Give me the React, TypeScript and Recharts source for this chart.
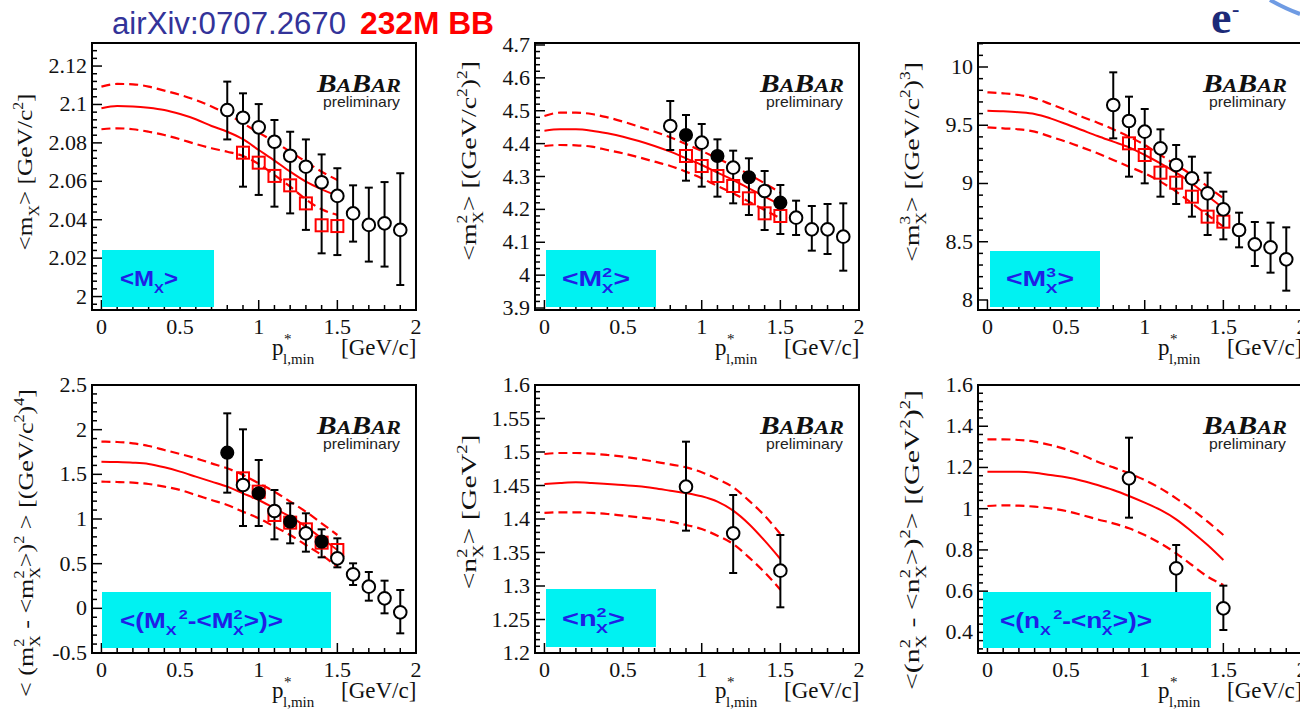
import React from 'react';
import { ComposedChart, Line, Scatter, ErrorBar, XAxis, YAxis, ReferenceArea } from 'recharts';

// p*_{l,min} cut values
const FIT_X = [0, 0.1, 0.2, 0.3, 0.4, 0.5, 0.6, 0.7, 0.8, 0.9, 1.0, 1.1, 1.2, 1.3, 1.4, 1.5];
const PMIN_ALL = [0.8, 0.9, 1.0, 1.1, 1.2, 1.3, 1.4, 1.5, 1.6, 1.7, 1.8, 1.9];
const PMIN_SQ = [0.9, 1.0, 1.1, 1.2, 1.3, 1.4, 1.5];
const PMIN_EVEN = [0.8, 1.0, 1.2, 1.4];
const PMIN_ODD = [0.9, 1.1, 1.3, 1.5];
const PMIN_M2_OPEN = [0.8, 1.0, 1.2, 1.4, 1.6, 1.7, 1.8, 1.9];
const PMIN_V_OPEN = [0.9, 1.1, 1.3, 1.5, 1.6, 1.7, 1.8, 1.9];
const PMIN_N = [0.9, 1.2, 1.5];

// <mX>
const MX_OPEN = [2.0971, 2.0931, 2.0881, 2.0806, 2.0733, 2.0676, 2.0595, 2.0524, 2.0433, 2.0373, 2.0381, 2.0347];
const MX_OPEN_HI = [2.1119, 2.1058, 2.1002, 2.0919, 2.0858, 2.0818, 2.074, 2.0668, 2.0579, 2.0567, 2.0596, 2.0642];
const MX_OPEN_LO = [2.0818, 2.0572, 2.0529, 2.0468, 2.0433, 2.0347, 2.0225, 2.0216, 2.0286, 2.0182, 2.0156, 2.006];
const MX_SQ = [2.0749, 2.0697, 2.0628, 2.0579, 2.0485, 2.0371, 2.0367];
const MX_FIT = [2.098, 2.0992, 2.099, 2.0983, 2.0971, 2.095, 2.0923, 2.0888, 2.0858, 2.0819, 2.0763, 2.0708, 2.065, 2.0598, 2.0558, 2.0524];
const MX_FIT_HI = [2.1093, 2.1107, 2.1105, 2.1093, 2.1072, 2.105, 2.1023, 2.0989, 2.095, 2.0902, 2.0853, 2.0806, 2.0754, 2.0702, 2.065, 2.0607];
const MX_FIT_LO = [2.0871, 2.0876, 2.0871, 2.0858, 2.0841, 2.0819, 2.0794, 2.0772, 2.0754, 2.0732, 2.069, 2.0633, 2.0572, 2.0506, 2.0454, 2.0425];

// <mX^2>
const M2_OPEN = [4.4536, 4.4029, 4.3269, 4.2559, 4.1748, 4.1393, 4.1393, 4.117];
const M2_OPEN_HI = [4.5296, 4.4597, 4.3786, 4.3167, 4.2265, 4.2103, 4.2164, 4.2184];
const M2_OPEN_LO = [4.3806, 4.2691, 4.2184, 4.1373, 4.1221, 4.0745, 4.0643, 4.0136];
const M2_FILL = [4.4262, 4.3624, 4.2975, 4.2204];
const M2_FILL_HI = [4.487, 4.413, 4.3553, 4.2742];
const M2_FILL_LO = [4.2873, 4.2387, 4.1829, 4.1252];
const M2_SQ = [4.3624, 4.3319, 4.3015, 4.2711, 4.2336, 4.188, 4.1799];
const M2_FIT = [4.4394, 4.4435, 4.4435, 4.4394, 4.4313, 4.4211, 4.408, 4.3928, 4.3755, 4.3553, 4.335, 4.3117, 4.2894, 4.264, 4.2387, 4.2133];
const M2_FIT_HI = [4.484, 4.4941, 4.4941, 4.4901, 4.4799, 4.4668, 4.4516, 4.4363, 4.4191, 4.3988, 4.3776, 4.3553, 4.332, 4.3066, 4.2792, 4.2508];
const M2_FIT_LO = [4.3928, 4.3958, 4.3948, 4.3908, 4.3806, 4.3705, 4.3583, 4.3451, 4.332, 4.3147, 4.2944, 4.2711, 4.2488, 4.2235, 4.1981, 4.1728];

// <mX^3>
const M3_OPEN = [9.6738, 9.5364, 9.4448, 9.3018, 9.1587, 9.0443, 8.9155, 8.7782, 8.6008, 8.4777, 8.4519, 8.3489];
const M3_OPEN_HI = [9.9542, 9.7453, 9.6394, 9.4649, 9.3304, 9.2302, 9.0929, 8.9298, 8.7495, 8.6694, 8.6637, 8.6236];
const M3_OPEN_LO = [9.3876, 9.0586, 9.0013, 8.8869, 8.824, 8.7152, 8.5578, 8.5206, 8.4519, 8.2917, 8.2345, 8.08];
const M3_SQ = [9.3447, 9.2446, 9.0929, 9.007, 8.8869, 8.7152, 8.6723];
const M3_FIT = [9.6251, 9.6194, 9.6108, 9.5965, 9.5593, 9.5107, 9.4592, 9.4076, 9.359, 9.3104, 9.2446, 9.173, 9.0929, 9.0014, 8.8926, 8.7868];
const M3_FIT_HI = [9.7825, 9.7739, 9.7596, 9.731, 9.6824, 9.6308, 9.5736, 9.5221, 9.4649, 9.402, 9.3304, 9.2446, 9.1587, 9.0729, 8.9727, 8.8726];
const M3_FIT_LO = [9.4821, 9.4735, 9.4649, 9.4449, 9.402, 9.359, 9.3104, 9.2589, 9.2017, 9.1445, 9.0872, 9.0157, 8.9299, 8.8297, 8.7295, 8.6294];

// <(mX^2 - <mX^2>)^2>
const V_FILL = [1.7425, 1.2874, 0.9702, 0.7463];
const V_FILL_HI = [2.1828, 1.6605, 1.1754, 0.8844];
const V_FILL_LO = [1.2948, 0.9217, 0.7276, 0.5709];
const V_OPEN = [1.3806, 1.0896, 0.8396, 0.5597, 0.3806, 0.2426, 0.112, -0.0448];
const V_OPEN_HI = [2.0037, 1.3246, 1.0635, 0.7836, 0.5038, 0.4068, 0.3097, 0.2052];
const V_OPEN_LO = [0.9217, 0.7724, 0.6344, 0.459, 0.2612, 0.0859, -0.0559, -0.2798];
const V_SQ = [1.4552, 1.306, 1.0448, 0.959, 0.8843, 0.7351, 0.653];
const V_FIT = [1.6418, 1.638, 1.6306, 1.6157, 1.5784, 1.5299, 1.4739, 1.4179, 1.362, 1.2873, 1.2127, 1.1194, 1.0262, 0.9142, 0.7836, 0.653];
const V_FIT_HI = [1.8657, 1.862, 1.847, 1.8172, 1.7724, 1.7276, 1.6791, 1.6231, 1.5672, 1.4925, 1.3993, 1.306, 1.194, 1.0821, 0.9515, 0.8209];
const V_FIT_LO = [1.4179, 1.4142, 1.4067, 1.3918, 1.362, 1.3247, 1.2687, 1.2127, 1.1567, 1.0821, 1.0074, 0.9142, 0.8209, 0.709, 0.597, 0.4664];

// <nX^2>
const N2_OPEN = [1.4483, 1.3786, 1.3229];
const N2_OPEN_HI = [1.5154, 1.4358, 1.3761];
const N2_OPEN_LO = [1.3826, 1.3194, 1.2682];
const N2_FIT = [1.4523, 1.4537, 1.4547, 1.4537, 1.4523, 1.4508, 1.4488, 1.4458, 1.4423, 1.4388, 1.4339, 1.4259, 1.4125, 1.3926, 1.3677, 1.3403];
const N2_FIT_HI = [1.497, 1.4985, 1.4985, 1.4975, 1.4955, 1.493, 1.4896, 1.4856, 1.4816, 1.4771, 1.4697, 1.4597, 1.4473, 1.4274, 1.405, 1.3776];
const N2_FIT_LO = [1.409, 1.41, 1.41, 1.409, 1.4075, 1.405, 1.4025, 1.4, 1.396, 1.3911, 1.3851, 1.3751, 1.3627, 1.3428, 1.3204, 1.2945];

// <(nX^2 - <nX^2>)^2>
const N4_OPEN = [1.1473, 0.7107, 0.5167];
const N4_OPEN_HI = [1.3445, 0.8239, 0.6266];
const N4_OPEN_LO = [0.9565, 0.58, 0.4116];
const N4_FIT = [1.1796, 1.1796, 1.1796, 1.1748, 1.1634, 1.1521, 1.136, 1.1149, 1.0907, 1.0616, 1.0292, 0.9937, 0.9484, 0.8886, 0.8239, 0.7511];
const N4_FIT_HI = [1.3364, 1.3364, 1.3332, 1.3251, 1.309, 1.2879, 1.2605, 1.2281, 1.2006, 1.1715, 1.1392, 1.0988, 1.0502, 0.9969, 0.9371, 0.8724];
const N4_FIT_LO = [1.0131, 1.0163, 1.0147, 1.0098, 1.0017, 0.9888, 0.9694, 0.9484, 0.929, 0.9047, 0.8724, 0.832, 0.7835, 0.7269, 0.6703, 0.6299];

const SERIF = '"Liberation Serif", "DejaVu Serif", serif';
const SANS = '"Liberation Sans", Arial, sans-serif';
const RED = '#ff0000';
const LABEL_BLUE = '#1f1fe6';
const CYAN = '#00f2f2';

const PADL = 90, PADR = 10, PADT = 10, PADB = 50;
const FRAME_W = 324;
const X_DOMAIN: [number, number] = [-0.06, 2];

const pts = (xs: number[], ys: number[], hi?: number[], lo?: number[]) =>
  xs.map((x, i) => (hi && lo ? { x, y: ys[i], err: [ys[i] - lo[i], hi[i] - ys[i]] } : { x, y: ys[i] }));
const curve = (ys: number[]) => FIT_X.map((x, i) => ({ x, y: ys[i] }));

const makeTicks = (lo: number, hi: number, step: number) => {
  const out: number[] = [];
  const a = Math.ceil(lo / step - 1e-9);
  const b = Math.floor(hi / step + 1e-9);
  for (let i = a; i <= b; i++) out.push(+(i * step).toFixed(6));
  return out;
};
const onStep = (v: number, step: number) => Math.abs(v / step - Math.round(v / step)) < 1e-6;
const fmt = (v: number) => String(parseFloat(v.toFixed(4)));
const X_TICKS = makeTicks(X_DOMAIN[0], X_DOMAIN[1], 0.1);

type Seg = [string, number?, number?];
const rich = (segs: Seg[], size: number) => {
  let cur = 0;
  return segs.map(([t, lvl = 0, dx = 0], i) => {
    const target = lvl > 0 ? -size * 0.42 : lvl < 0 ? size * 0.3 : 0;
    const dy = target - cur;
    cur = target;
    return (
      <tspan key={i} dx={dx || undefined} dy={dy || undefined} fontSize={lvl ? size * 0.62 : size}>
        {t}
      </tspan>
    );
  });
};

const PANELS = [
  {
    key: 'mx', left: 92, top: 43, h: 267, yDomain: [1.993, 2.132] as [number, number], yMajor: 0.02, yMinor: 0.004,
    fit: MX_FIT, fitHi: MX_FIT_HI, fitLo: MX_FIT_LO,
    open: pts(PMIN_ALL, MX_OPEN, MX_OPEN_HI, MX_OPEN_LO), filled: null as any, squares: pts(PMIN_SQ, MX_SQ),
    title: { bx: 32, cy: 172, len: 157, segs: [['<m'], ['X', -1], ['> [GeV/c'], ['2', 1], [']']] as Seg[] },
    box: { x: 102, y: 250, w: 112, h: 57, tx: 120, ty: 286, len: 58, segs: [['<M'], ['X', -1], ['>']] as Seg[] },
  },
  {
    key: 'm2', left: 535, top: 43, h: 267, yDomain: [3.894, 4.706] as [number, number], yMajor: 0.1, yMinor: 0.02,
    fit: M2_FIT, fitHi: M2_FIT_HI, fitLo: M2_FIT_LO,
    open: pts(PMIN_M2_OPEN, M2_OPEN, M2_OPEN_HI, M2_OPEN_LO), filled: pts(PMIN_ODD, M2_FILL, M2_FILL_HI, M2_FILL_LO), squares: pts(PMIN_SQ, M2_SQ),
    title: { bx: 476, cy: 161, len: 200, segs: [['<m'], ['2', 1], ['X', -1, -7], ['> [(GeV/c'], ['2', 1], [')'], ['2', 1], [']']] as Seg[] },
    box: { x: 546, y: 250, w: 110, h: 57, tx: 562, ty: 286, len: 68, segs: [['<M'], ['2', 1], ['X', -1, -8], ['>']] as Seg[] },
  },
  {
    key: 'm3', left: 978, top: 43, h: 267, yDomain: [7.914, 10.206] as [number, number], yMajor: 0.5, yMinor: 0.1,
    fit: M3_FIT, fitHi: M3_FIT_HI, fitLo: M3_FIT_LO,
    open: pts(PMIN_ALL, M3_OPEN, M3_OPEN_HI, M3_OPEN_LO), filled: null as any, squares: pts(PMIN_SQ, M3_SQ),
    title: { bx: 919, cy: 162, len: 200, segs: [['<m'], ['3', 1], ['X', -1, -7], ['> [(GeV/c'], ['2', 1], [')'], ['3', 1], [']']] as Seg[] },
    box: { x: 990, y: 251, w: 110, h: 56, tx: 1006, ty: 286, len: 68, segs: [['<M'], ['3', 1], ['X', -1, -8], ['>']] as Seg[] },
  },
  {
    key: 'v', left: 92, top: 385, h: 268, yDomain: [-0.5, 2.5] as [number, number], yMajor: 0.5, yMinor: 0.1,
    fit: V_FIT, fitHi: V_FIT_HI, fitLo: V_FIT_LO,
    open: pts(PMIN_V_OPEN, V_OPEN, V_OPEN_HI, V_OPEN_LO), filled: pts(PMIN_EVEN, V_FILL, V_FILL_HI, V_FILL_LO), squares: pts(PMIN_SQ, V_SQ),
    title: {
      bx: 33, cy: 543, len: 308,
      segs: [['< (m'], ['2', 1], ['X', -1, -7], [' - <m'], ['2', 1], ['X', -1, -7], ['>)'], ['2', 1], [' > [(GeV/c'], ['2', 1], [')'], ['4', 1], [']']] as Seg[],
    },
    box: {
      x: 102, y: 592, w: 229, h: 56, tx: 120, ty: 628, len: 163,
      segs: [['<(M'], ['X', -1], ['2', 1, 2], ['-<M'], ['2', 1], ['X', -1, -8], ['>)>']] as Seg[],
    },
  },
  {
    key: 'n2', left: 535, top: 385, h: 268, yDomain: [1.2, 1.6] as [number, number], yMajor: 0.05, yMinor: 0.01,
    fit: N2_FIT, fitHi: N2_FIT_HI, fitLo: N2_FIT_LO,
    open: pts(PMIN_N, N2_OPEN, N2_OPEN_HI, N2_OPEN_LO), filled: null as any, squares: null as any,
    title: { bx: 476, cy: 512, len: 155, segs: [['<n'], ['2', 1], ['X', -1, -7], ['> [GeV'], ['2', 1], [']']] as Seg[] },
    box: { x: 546, y: 589, w: 110, h: 58, tx: 562, ty: 626, len: 63, segs: [['<n'], ['2', 1], ['X', -1, -8], ['>']] as Seg[] },
  },
  {
    key: 'n4', left: 978, top: 385, h: 268, yDomain: [0.3, 1.6] as [number, number], yMajor: 0.2, yMinor: 0.04,
    fit: N4_FIT, fitHi: N4_FIT_HI, fitLo: N4_FIT_LO,
    open: pts(PMIN_N, N4_OPEN, N4_OPEN_HI, N4_OPEN_LO), filled: null as any, squares: null as any,
    title: {
      bx: 919, cy: 540, len: 300,
      segs: [['<(n'], ['2', 1], ['X', -1, -7], [' - <n'], ['2', 1], ['X', -1, -7], ['>)'], ['2', 1], ['> [(GeV'], ['2', 1], [')'], ['2', 1], [']']] as Seg[],
    },
    box: {
      x: 983, y: 592, w: 228, h: 56, tx: 1000, ty: 628, len: 152,
      segs: [['<(n'], ['X', -1], ['2', 1, 2], ['-<n'], ['2', 1], ['X', -1, -8], ['>)>']] as Seg[],
    },
  },
];

const OpenDot = (p: any) => <circle cx={p.cx} cy={p.cy} r={6.3} fill="#fff" stroke="#000" strokeWidth={2} />;
const FullDot = (p: any) => <circle cx={p.cx} cy={p.cy} r={6.3} fill="#000" stroke="#000" strokeWidth={1.5} />;
const OpenSquare = (p: any) => (
  <rect x={p.cx - 6} y={p.cy - 6} width={12} height={12} fill="none" stroke={RED} strokeWidth={2} />
);

const xTick = (p: any) => {
  const v = p.payload.value;
  const maj = onStep(v, 0.5);
  return (
    <g>
      <line x1={p.x} x2={p.x} y1={p.y} y2={p.y - (maj ? 10 : 5)} stroke="#000" strokeWidth={1.5} />
      {maj && (
        <text x={p.x} y={p.y + 24} textAnchor="middle" fontFamily={SERIF} fontSize={22} fill="#111">
          {fmt(v)}
        </text>
      )}
    </g>
  );
};

const yTick = (major: number) => (p: any) => {
  const v = p.payload.value;
  const maj = onStep(v, major);
  return (
    <g>
      <line x1={p.x} x2={p.x + (maj ? 10 : 5)} y1={p.y} y2={p.y} stroke="#000" strokeWidth={1.5} />
      {maj && (
        <text x={p.x - 5} y={p.y + 7} textAnchor="end" fontFamily={SERIF} fontSize={22} fill="#111">
          {fmt(v)}
        </text>
      )}
    </g>
  );
};

function Panel({ cfg }: { cfg: (typeof PANELS)[number] }) {
  const yTicks = makeTicks(cfg.yDomain[0], cfg.yDomain[1], cfg.yMinor);
  return (
    <div style={{ position: 'absolute', left: cfg.left - PADL, top: cfg.top - PADT }}>
      <ComposedChart
        width={FRAME_W + PADL + PADR}
        height={cfg.h + PADT + PADB}
        margin={{ top: PADT, right: PADR, bottom: 0, left: 0 }}
      >
        <XAxis
          type="number"
          dataKey="x"
          domain={X_DOMAIN}
          ticks={X_TICKS}
          interval={0}
          tickSize={0}
          tickMargin={0}
          axisLine={false}
          tickLine={false}
          height={PADB}
          allowDataOverflow
          tick={xTick}
        />
        <YAxis
          type="number"
          domain={cfg.yDomain}
          ticks={yTicks}
          interval={0}
          tickSize={0}
          tickMargin={0}
          axisLine={false}
          tickLine={false}
          width={PADL}
          allowDataOverflow
          tick={yTick(cfg.yMajor)}
        />
        <ReferenceArea
          x1={X_DOMAIN[0]}
          x2={X_DOMAIN[1]}
          y1={cfg.yDomain[0]}
          y2={cfg.yDomain[1]}
          fill="none"
          stroke="#000"
          strokeWidth={2}
        />
        <Line data={curve(cfg.fitHi)} dataKey="y" type="monotone" stroke={RED} strokeWidth={2.2} strokeDasharray="9 5" dot={false} activeDot={false} isAnimationActive={false} />
        <Line data={curve(cfg.fitLo)} dataKey="y" type="monotone" stroke={RED} strokeWidth={2.2} strokeDasharray="9 5" dot={false} activeDot={false} isAnimationActive={false} />
        <Line data={curve(cfg.fit)} dataKey="y" type="monotone" stroke={RED} strokeWidth={2} dot={false} activeDot={false} isAnimationActive={false} />
        {cfg.squares && <Scatter data={cfg.squares} dataKey="y" shape={OpenSquare} isAnimationActive={false} />}
        {cfg.filled && (
          <Scatter data={cfg.filled} dataKey="y" shape={FullDot} isAnimationActive={false}>
            <ErrorBar dataKey="err" direction="y" width={4} stroke="#000" strokeWidth={2} />
          </Scatter>
        )}
        {cfg.open && (
          <Scatter data={cfg.open} dataKey="y" shape={OpenDot} isAnimationActive={false}>
            <ErrorBar dataKey="err" direction="y" width={4} stroke="#000" strokeWidth={2} />
          </Scatter>
        )}
      </ComposedChart>
    </div>
  );
}

function Overlay() {
  return (
    <svg width={1300} height={713} style={{ position: 'absolute', left: 0, top: 0, pointerEvents: 'none' }}>
      <text x={112} y={34} fontFamily={SANS} fontSize={31} fill="#333399" textLength={234} lengthAdjust="spacingAndGlyphs">
        airXiv:0707.2670
      </text>
      <text x={360} y={34} fontFamily={SANS} fontSize={31} fontWeight="bold" fill={RED} textLength={134} lengthAdjust="spacingAndGlyphs">
        232M BB
      </text>
      <text x={1211} y={33} fontFamily={SERIF} fontSize={46} fontWeight="bold" fill="#1c2a78">e</text>
      <text x={1232} y={16} fontFamily={SERIF} fontSize={22} fontWeight="bold" fill="#1c2a78">-</text>
      <path d="M1270 0 Q1286 9 1300 14" fill="none" stroke="#6f9be3" strokeWidth={4} />
      {PANELS.map((cfg) => {
        const L = cfg.left;
        const T = cfg.top;
        const B = cfg.top + cfg.h;
        const R = cfg.left + FRAME_W;
        const t = cfg.title;
        const b = cfg.box;
        return (
          <g key={cfg.key}>
            <text
              transform={`translate(${t.bx},${t.cy}) rotate(-90)`}
              textAnchor="middle"
              fontFamily={SERIF}
              fontSize={22}
              fill="#111"
              textLength={t.len}
              lengthAdjust="spacingAndGlyphs"
              style={{ whiteSpace: 'pre' }}
            >
              {rich(t.segs, 22)}
            </text>
            <g fontFamily={SERIF} fill="#111">
              <text x={L + 180} y={B + 45} fontSize={23}>p</text>
              <text x={L + 192} y={B + 34} fontSize={15}>*</text>
              <text x={L + 191} y={B + 54} fontSize={15}>l,min</text>
              <text x={L + 249} y={B + 45} fontSize={23}>[GeV/c]</text>
            </g>
            <text
              x={R - 15}
              y={T + 49}
              textAnchor="end"
              fontFamily={SERIF}
              fontStyle="italic"
              fontWeight="bold"
              fill="#111"
              textLength={84}
              lengthAdjust="spacingAndGlyphs"
            >
              <tspan fontSize={25}>B</tspan>
              <tspan fontSize={19}>A</tspan>
              <tspan fontSize={25}>B</tspan>
              <tspan fontSize={19}>AR</tspan>
            </text>
            <text x={R - 16} y={T + 64} textAnchor="end" fontFamily={SANS} fontSize={15} fill="#222" textLength={77} lengthAdjust="spacingAndGlyphs">
              preliminary
            </text>
            <rect x={b.x} y={b.y} width={b.w} height={b.h} fill={CYAN} />
            <text
              x={b.tx}
              y={b.ty}
              fontFamily={SANS}
              fontSize={22}
              fontWeight="bold"
              fill={LABEL_BLUE}
              textLength={b.len}
              lengthAdjust="spacingAndGlyphs"
              style={{ whiteSpace: 'pre' }}
            >
              {rich(b.segs, 22)}
            </text>
          </g>
        );
      })}
    </svg>
  );
}

export default function App() {
  return (
    <div
      style={{
        position: 'absolute',
        left: 0,
        top: 0,
        width: 1300,
        height: 713,
        background: '#fff',
        overflow: 'hidden',
      }}
    >
      {PANELS.map((cfg) => (
        <Panel key={cfg.key} cfg={cfg} />
      ))}
      <Overlay />
    </div>
  );
}
